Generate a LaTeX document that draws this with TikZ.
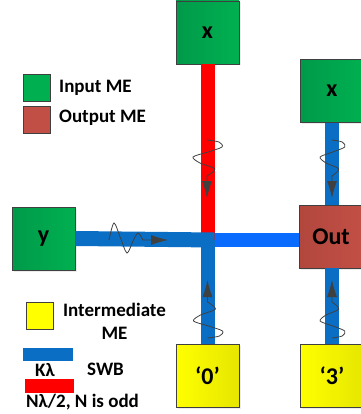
\documentclass[tikz,border=0pt]{standalone}
\usepackage{fontspec}
\setmainfont{Carlito}
\usetikzlibrary{arrows.meta,shadows}
\definecolor{edgegray}{HTML}{404040}
\definecolor{wavegray}{HTML}{595959}
\definecolor{inputgreenL}{HTML}{009A4A}
\definecolor{inputgreenR}{HTML}{00B050}
\definecolor{outredL}{HTML}{B2473D}
\definecolor{outredR}{HTML}{C24F46}
\definecolor{interyellowL}{HTML}{FFFF00}
\definecolor{interyellowR}{HTML}{E6E600}
\definecolor{swbblue}{HTML}{0A6EC4}
\definecolor{brightblue}{HTML}{0A6CFF}
\definecolor{oddred}{HTML}{FF0000}
\tikzset{
  mebox/.style={draw=edgegray, line width=0.8pt, minimum width=63pt, minimum height=63pt,
    inner sep=0pt, font=\bfseries\fontsize{24}{28}\selectfont,
    drop shadow={opacity=0.15, shadow xshift=1.5pt, shadow yshift=-1.5pt}},
  inputme/.style={mebox, left color=inputgreenL, right color=inputgreenR},
  outputme/.style={mebox, left color=outredL, right color=outredR},
  interme/.style={mebox, left color=interyellowL, right color=interyellowR},
  legsq/.style={draw=edgegray, line width=0.8pt, minimum width=27pt, minimum height=27pt, inner sep=0pt},
  legtext/.style={font=\bfseries\fontsize{19}{23}\selectfont, inner sep=0pt},
  wave/.style={draw=wavegray, line width=0.8pt, -{Latex[length=17pt,width=10pt]}, color=edgegray},
}
% helical wave with arrow: [extra options](start point)
\def\helix[#1](#2){\draw[wave,shift={(#2)},#1] plot[smooth] coordinates {(0,0) (12,2) (15,7) (1,12) (-14,17) (-7,23) (8,29) (0,36)} -- (0,58);}

\begin{document}
\begin{tikzpicture}[x=1pt,y=-1pt]
		\useasboundingbox (0,0) rectangle (360,414);
		%%%%% START %%%%%
		% memory elements
		\node[inputme] (topx) at (207.5,32.5) {x};
		\node[inputme] (sidex) at (332,91) {x};
		\node[inputme] (yin) at (43.5,238.5) {y};
		\node[outputme] (outme) at (331,236.5) {Out};
		\node[interme] (zero) at (207.5,375.5) {‘0’};
		\node[interme] (three) at (332,375.5) {‘3’};
		\coordinate (j) at (207.5,240);
		
		% waveguides
		\draw[oddred, line width=14pt] (topx.south) -- (j);
		\draw[swbblue, line width=15pt] (yin.east) -- ([xshift=7pt]j);
		\draw[brightblue, line width=14pt] ([xshift=7pt]j) -- (outme.west |- j);
		\draw[swbblue, line width=14pt] (j) -- (zero.north);
		\draw[swbblue, line width=14pt] (sidex.south) -- (outme.north -| sidex.south);
		\draw[swbblue, line width=14pt] (outme.south -| three.north) -- (three.north);
		
		% waves
		\draw[wave] plot[smooth] coordinates {(109,240) (114,223) (120.5,238) (127,253) (133,241) (138,233) (143,240)} -- (168,240);
		\helix[](207,140);
		\helix[xscale=0.85](332,140);
		\helix[yscale=-1](207.5,338);
		\helix[yscale=-1,xscale=0.85](332,338);
		
		% legend
		\node[legsq, fill=inputgreenR] (leginput) at (37,87.5) {};
		\node[legtext, anchor=west] (leginputtext) at (59,88) {Input ME};
		\node[legsq, fill=outredR] (legoutput) at (37,120) {};
		\node[legtext, anchor=west] (legoutputtext) at (59,118) {Output ME};
		\node[legsq, fill=interyellowL] (leginter) at (39.5,315.5) {};
		\node[legtext, align=center] (legintertext) at (114.5,321) {Intermediate\\ME};
		\draw[swbblue, line width=13pt] (23,354.5) -- (73,354.5);
		\node[legtext] (kl) at (45,370) {Kλ};
		\node[legtext] (swb) at (105.5,369) {SWB};
		\draw[oddred, line width=14pt] (25,386) -- (74,386);
		\node[legtext, anchor=west] (odd) at (26,402) {Nλ/2, N is odd};
		%%%%% END %%%%%
\end{tikzpicture}
\end{document}
